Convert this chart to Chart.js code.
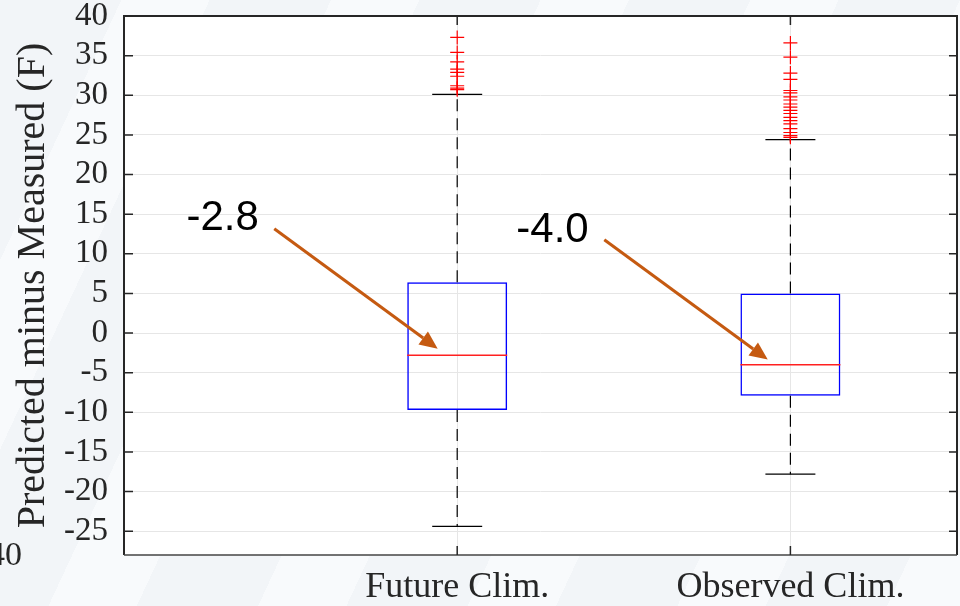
<!DOCTYPE html>
<html><head><meta charset="utf-8">
<script src="https://cdn.jsdelivr.net/npm/chart.js@4"></script>
<style>
html,body{margin:0;padding:0;width:960px;height:606px;overflow:hidden;}
body{background:#f3f6f9;background-image:repeating-linear-gradient(115deg,#f2f5f8 0px,#f2f5f8 110px,#f8fafc 110px,#f8fafc 190px);}
#wrap{position:relative;width:960px;height:606px;}
</style></head><body><div id="wrap"><canvas id="c" width="960" height="606"></canvas></div>
<script>
const categories = ['Future Clim.', 'Observed Clim.'];
const categoryPos = [1, 2];
const q1 = [-9.7, -7.9];
const median = [-2.8, -4.0];
const q3 = [6.4, 5.0];
const whiskerLow = [-24.4, -17.8];
const whiskerHigh = [30.1, 24.4];
const outliersFuture = [37.3, 35.4, 34.2, 33.3, 32.9, 32.4, 31.2, 30.9, 30.7];
const outliersObserved = [36.6, 34.8, 32.8, 32.0, 30.6, 30.3, 29.8, 29.4, 28.9, 28.5, 28.1, 27.7, 27.2, 26.8, 26.4, 25.8, 25.3, 24.9, 24.7];
const yTicks = [-25, -20, -15, -10, -5, 0, 5, 10, 15, 20, 25, 30, 35, 40];
const medianLabels = ['-2.8', '-4.0'];

const outliers = [outliersFuture, outliersObserved];
const boxHalf = 0.15, capHalf = 0.075;

const datasets = [];
datasets.push({
  type: 'bar',
  data: categoryPos.map((x, i) => ({x: x, y: [q1[i], q3[i]]})),
  backgroundColor: 'rgba(0,0,0,0)',
  borderColor: '#0000ff',
  borderWidth: 1.5,
  borderSkipped: false,
  barPercentage: 0.3,
  categoryPercentage: 1,
  order: 5
});
categoryPos.forEach((x, i) => {
  const lineBase = {type: 'line', pointRadius: 0, fill: false, tension: 0, order: 4};
  datasets.push(Object.assign({}, lineBase, {data: [{x: x, y: q3[i]}, {x: x, y: whiskerHigh[i]}], borderColor: '#000000', borderWidth: 1.2, borderDash: [12, 7]}));
  datasets.push(Object.assign({}, lineBase, {data: [{x: x, y: q1[i]}, {x: x, y: whiskerLow[i]}], borderColor: '#000000', borderWidth: 1.2, borderDash: [12, 7]}));
  datasets.push(Object.assign({}, lineBase, {data: [{x: x - capHalf, y: whiskerHigh[i]}, {x: x + capHalf, y: whiskerHigh[i]}], borderColor: '#000000', borderWidth: 1.2}));
  datasets.push(Object.assign({}, lineBase, {data: [{x: x - capHalf, y: whiskerLow[i]}, {x: x + capHalf, y: whiskerLow[i]}], borderColor: '#000000', borderWidth: 1.2}));
  datasets.push(Object.assign({}, lineBase, {data: [{x: x - boxHalf, y: median[i]}, {x: x + boxHalf, y: median[i]}], borderColor: '#ff2020', borderWidth: 1.5, order: 3}));
  datasets.push({type: 'scatter', data: outliers[i].map(v => ({x: x, y: v})), pointStyle: 'cross', pointRadius: 7, borderColor: '#ff0000', backgroundColor: '#ff0000', pointBorderWidth: 1.2, borderWidth: 1.2, showLine: false, order: 1});
});

const annotations = [
  {label: 0, tx: 0.296, ty: 14.5, fromX: 0.451, fromY: 13.17, toX: 0.9415, toY: -1.97},
  {label: 1, tx: 1.286, ty: 12.95, fromX: 1.4415, fromY: 11.78, toX: 1.932, toY: -3.35}
];

const framePlugin = {
  id: 'frame',
  beforeDraw(chart) {
    const a = chart.chartArea, ctx = chart.ctx;
    ctx.save();
    ctx.fillStyle = '#ffffff';
    ctx.fillRect(a.left, a.top, a.right - a.left, a.bottom - a.top);
    ctx.restore();
  },
  afterDraw(chart) {
    const a = chart.chartArea, ctx = chart.ctx;
    const xs = chart.scales.x, ys = chart.scales.y;
    ctx.save();
    ctx.strokeStyle = '#262626';
    ctx.lineWidth = 2;
    ctx.beginPath();
    ctx.moveTo(a.left, a.bottom); ctx.lineTo(a.left, a.top); ctx.lineTo(a.right, a.top); ctx.lineTo(a.right, a.bottom);
    ctx.stroke();
    ctx.strokeStyle = '#444444';
    ctx.lineWidth = 1.5;
    ctx.beginPath(); ctx.moveTo(a.left, a.bottom); ctx.lineTo(a.right, a.bottom); ctx.stroke();
    ctx.strokeStyle = '#262626';
    ctx.lineWidth = 1.5;
    ctx.beginPath();
    yTicks.forEach(v => {
      const y = ys.getPixelForValue(v);
      ctx.moveTo(a.left, y); ctx.lineTo(a.left + 9, y);
      ctx.moveTo(a.right - 8, y); ctx.lineTo(a.right, y);
    });
    categoryPos.forEach(v => {
      const x = xs.getPixelForValue(v);
      ctx.moveTo(x, a.bottom); ctx.lineTo(x, a.bottom - 9);
      ctx.moveTo(x, a.top); ctx.lineTo(x, a.top + 9);
    });
    ctx.stroke();
    annotations.forEach(an => {
      const x0 = xs.getPixelForValue(an.fromX), y0 = ys.getPixelForValue(an.fromY);
      const x1 = xs.getPixelForValue(an.toX), y1 = ys.getPixelForValue(an.toY);
      const ang = Math.atan2(y1 - y0, x1 - x0);
      const hl = 18, hw = 8;
      const bx = x1 - hl * Math.cos(ang), by = y1 - hl * Math.sin(ang);
      ctx.strokeStyle = '#c55a11';
      ctx.fillStyle = '#c55a11';
      ctx.lineWidth = 3;
      ctx.beginPath(); ctx.moveTo(x0, y0); ctx.lineTo(bx, by); ctx.stroke();
      ctx.beginPath();
      ctx.moveTo(x1, y1);
      ctx.lineTo(bx + hw * Math.sin(ang), by - hw * Math.cos(ang));
      ctx.lineTo(bx - hw * Math.sin(ang), by + hw * Math.cos(ang));
      ctx.closePath(); ctx.fill();
      ctx.fillStyle = '#000000';
      ctx.font = '42px "Liberation Sans", Arial, sans-serif';
      ctx.textAlign = 'center';
      ctx.textBaseline = 'middle';
      ctx.fillText(medianLabels[an.label], xs.getPixelForValue(an.tx), ys.getPixelForValue(an.ty));
    });
    ctx.fillStyle = '#262626';
    ctx.font = '34px "Liberation Serif", serif';
    ctx.textAlign = 'right';
    ctx.textBaseline = 'middle';
    ctx.fillText('40', 22, 556);
    ctx.restore();
  }
};

const chart = new Chart(document.getElementById('c'), {
  data: {datasets: datasets},
  options: {
    responsive: false,
    animation: false,
    layout: {padding: {top: 16, right: 3, bottom: 0, left: 0}},
    plugins: {legend: {display: false}, tooltip: {enabled: false}},
    scales: {
      x: {
        type: 'linear', min: 0, max: 2.5, offset: false,
        afterBuildTicks: s => { s.ticks = categoryPos.map(v => ({value: v})); },
        afterFit: s => { s.height = 51; s.paddingLeft = 0; s.paddingRight = 0; },
        ticks: {callback: (v, i) => categories[i], font: {family: 'Liberation Serif', size: 36}, color: '#262626', padding: 11, maxRotation: 0, autoSkip: false},
        grid: {color: '#e6e6e6', drawTicks: false, offset: false},
        border: {display: false}
      },
      y: {
        type: 'linear', min: -28, max: 40,
        afterBuildTicks: s => { s.ticks = yTicks.map(v => ({value: v})); },
        afterFit: s => { s.width = 124; s.paddingTop = 0; s.paddingBottom = 0; },
        ticks: {callback: v => String(v), font: {family: 'Liberation Serif', size: 33, lineHeight: 1.0}, color: '#262626', padding: 16, autoSkip: false},
        grid: {color: '#e6e6e6', drawTicks: false},
        border: {display: false},
        title: {display: true, text: 'Predicted minus Measured (F)', font: {family: 'Liberation Serif', size: 40}, color: '#262626', padding: {top: 9, bottom: 0}}
      }
    }
  },
  plugins: [framePlugin]
});
// point markers may overflow the plot edge; don't let them shrink the layout
chart.data.datasets.forEach((d, i) => {
  const ctrl = chart.getDatasetMeta(i).controller;
  if (ctrl) ctrl.getMaxOverflow = () => 0;
});
chart.update();
</script></body></html>
